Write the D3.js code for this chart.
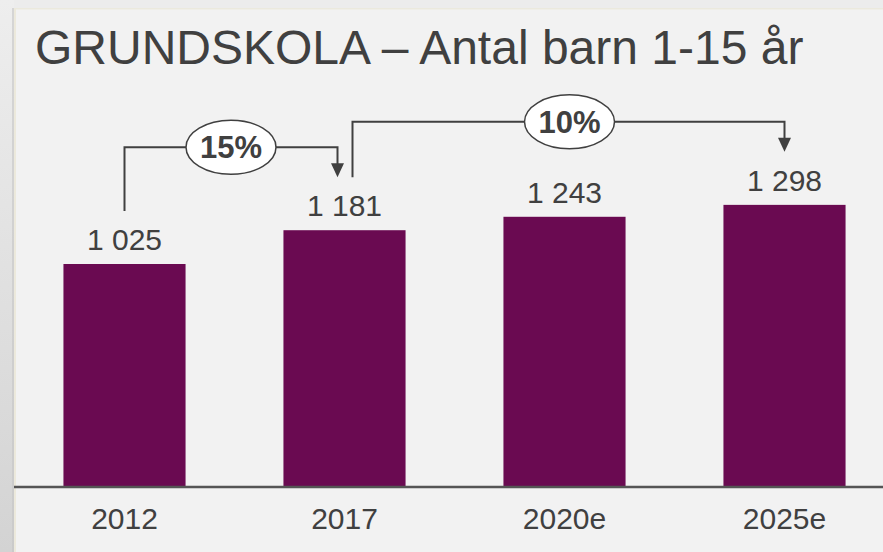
<!DOCTYPE html>
<html>
<head>
<meta charset="utf-8">
<script src="https://cdn.jsdelivr.net/npm/d3@7"></script>
<style>
  html, body { margin: 0; padding: 0; background: #ececec; }
  svg { display: block; font-family: "Liberation Sans", Arial, sans-serif; }
</style>
</head>
<body>
<svg id="chart" width="883" height="552"></svg>
<script>
// chart data
const categories = ["2012", "2017", "2020e", "2025e"];
const values = [1025, 1181, 1243, 1298];
const valueLabels = ["1 025", "1 181", "1 243", "1 298"];
// growth arrows: from category index -> to category index
const growthFrom = [0, 1];
const growthTo = [1, 3];
const growthLabels = ["15%", "10%"];

const title = "GRUNDSKOLA \u2013 Antal barn 1-15 \u00e5r";

const svg = d3.select("#chart");
const width = +svg.attr("width");
const height = +svg.attr("height");
const textColor = "#404040";

// background: left strip gradient + panel
const defs = svg.append("defs");
const grad = defs.append("linearGradient").attr("id", "strip").attr("x1", 0).attr("y1", 0).attr("x2", 0).attr("y2", 1);
grad.append("stop").attr("offset", "0%").attr("stop-color", "#eeeeee");
grad.append("stop").attr("offset", "100%").attr("stop-color", "#d3d3d3");

svg.append("rect").attr("width", width).attr("height", height).attr("fill", "#ececec");
svg.append("rect").attr("x", 0).attr("y", 0).attr("width", 14).attr("height", height).attr("fill", "url(#strip)");
svg.append("rect").attr("x", 12).attr("y", 8).attr("width", 2).attr("height", height).attr("fill", "#c4c4c4").attr("opacity", 0.6);
svg.append("rect").attr("x", 14).attr("y", 8).attr("width", width).attr("height", height)
    .attr("fill", "#f2f2f2");
svg.append("rect").attr("x", 14).attr("y", 8).attr("width", width).attr("height", 1.5).attr("fill", "#ebe9dd");
svg.append("rect").attr("x", 14).attr("y", 8).attr("width", 2).attr("height", height).attr("fill", "#ece9dc");

// title
svg.append("text")
    .attr("x", 35)
    .attr("y", 64)
    .attr("font-size", 48)
    .attr("fill", textColor)
    .text(title);

const baseline = 486;
const x = d3.scaleBand()
    .domain(categories)
    .range([14.5, 894.5])
    .paddingInner(0.445)
    .paddingOuter(0.2225);

const y = d3.scaleLinear()
    .domain([0, 1025])
    .range([baseline, 264]);

// bars
svg.append("g")
    .selectAll("rect")
    .data(values)
    .join("rect")
    .attr("x", (d, i) => x(categories[i]))
    .attr("y", d => y(d))
    .attr("width", x.bandwidth())
    .attr("height", d => baseline - y(d))
    .attr("fill", "#6a0a51");

// value labels
svg.append("g")
    .selectAll("text")
    .data(values)
    .join("text")
    .attr("x", (d, i) => x(categories[i]) + x.bandwidth() / 2)
    .attr("y", d => y(d) - 14)
    .attr("text-anchor", "middle")
    .attr("font-size", 30)
    .attr("fill", textColor)
    .text((d, i) => valueLabels[i]);

// x axis line
svg.append("line")
    .attr("x1", 14).attr("x2", width)
    .attr("y1", baseline + 1).attr("y2", baseline + 1)
    .attr("stroke", "#555").attr("stroke-width", 2.5);

const xAxis = d3.axisBottom(x).tickSize(0).tickPadding(0);
const ax = svg.append("g").attr("transform", `translate(0,${baseline})`).call(xAxis);
ax.select(".domain").remove();
ax.selectAll("text")
    .attr("y", 43)
    .attr("dy", 0)
    .attr("font-size", 30)
    .attr("font-family", "'Liberation Sans', Arial, sans-serif")
    .attr("fill", textColor);

// growth arrows
const cx = i => x(categories[i]) + x.bandwidth() / 2;
const endY = i => y(values[i]) - 53;

const arrows = svg.append("g");
growthFrom.forEach((f, k) => {
    const t = growthTo[k];
    const x0 = k === 0 ? cx(f) : cx(f) + 8;
    const x1 = k === 0 ? cx(t) - 7 : cx(t);
    const hy = Math.min(y(values[f]), y(values[t])) - 83;
    const y0 = endY(f);
    const y1 = endY(t);

    arrows.append("path")
        .attr("d", `M${x0},${y0} V${hy} H${x1} V${y1 - 12}`)
        .attr("fill", "none")
        .attr("stroke", textColor)
        .attr("stroke-width", 2);
    arrows.append("path")
        .attr("d", `M${x1 - 6.5},${y1 - 14} L${x1 + 6.5},${y1 - 14} L${x1},${y1} Z`)
        .attr("fill", textColor);

    const ex = (x0 + x1) / 2 + (k === 0 ? 0 : 1);
    arrows.append("ellipse")
        .attr("cx", ex).attr("cy", hy)
        .attr("rx", 45).attr("ry", 27)
        .attr("fill", "#ffffff")
        .attr("stroke", textColor)
        .attr("stroke-width", 1.5);
    arrows.append("text")
        .attr("x", ex)
        .attr("y", hy + 11)
        .attr("text-anchor", "middle")
        .attr("font-size", 31)
        .attr("font-weight", "bold")
        .attr("fill", textColor)
        .text(growthLabels[k]);
});
</script>
</body>
</html>
